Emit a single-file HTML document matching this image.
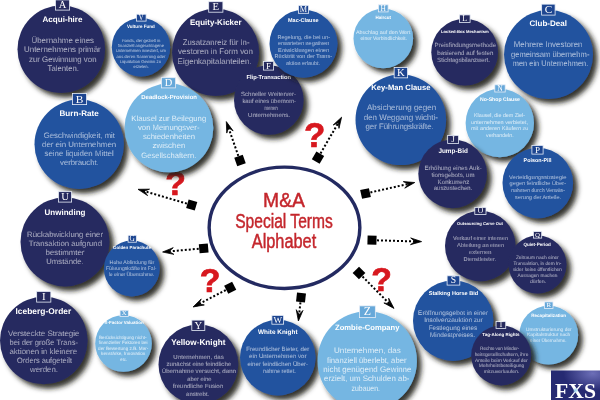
<!DOCTYPE html>
<html><head><meta charset="utf-8"><title>M&amp;A Special Terms Alphabet</title><style>
html,body{margin:0;padding:0;background:#fff;}
svg{display:block;will-change:transform;}
text{font-family:"Liberation Sans",sans-serif;}
.t{font-weight:bold;fill:#fff;}
.b{fill:#fff;}
.l{font-family:"Liberation Serif",serif;fill:#fff;}
</style></head><body>
<svg width="600" height="400" viewBox="0 0 600 400">
<defs>
<filter id="sh" x="-30%" y="-30%" width="170%" height="170%">
<feDropShadow dx="4.5" dy="4.5" stdDeviation="2.4" flood-color="#1c1c12" flood-opacity="0.9"/>
</filter>
<radialGradient id="fxg" cx="0.85" cy="0.1" r="0.6">
<stop offset="0" stop-color="#6d6fb8"/><stop offset="1" stop-color="#262a72"/>
</radialGradient>
<radialGradient id="xg" cx="0.5" cy="0.5" r="0.5">
<stop offset="0" stop-color="#8fd0f0" stop-opacity="0.9"/><stop offset="1" stop-color="#8fd0f0" stop-opacity="0"/>
</radialGradient>
</defs>
<rect width="600" height="400" fill="#fff"/>
<ellipse cx="284.5" cy="227.8" rx="75.35" ry="60.65" fill="#fff" stroke="#232a61" stroke-width="3.4"/>
<g fill="#c4262c" stroke="#c4262c" stroke-width="0.45">
<text x="284" y="206.8" font-size="19.5" text-anchor="middle" textLength="41.9" lengthAdjust="spacingAndGlyphs">M&amp;A</text>
<text x="284" y="227.8" font-size="19.5" text-anchor="middle" textLength="97.7" lengthAdjust="spacingAndGlyphs">Special Terms</text>
<text x="284" y="248.2" font-size="19.5" text-anchor="middle" textLength="64.5" lengthAdjust="spacingAndGlyphs">Alphabet</text>
</g>
<g>
<line x1="238.34" y1="155.88" x2="227.63" y2="125.37" stroke="#000" stroke-width="2" stroke-dasharray="2 2"/>
<rect x="235.5" y="156.1" width="9" height="9" fill="#000" transform="rotate(-109.36 240 160.6)"/>
<path d="M226.3,121.6 L233.12,130.86 L228.45,127.73 L226.77,133.09 Z" fill="#000" stroke="#000" stroke-width="0.8"/>
<line x1="320.52" y1="153.38" x2="339.59" y2="120.66" stroke="#000" stroke-width="2" stroke-dasharray="2 2"/>
<rect x="313.5" y="153.2" width="9" height="9" fill="#000" transform="rotate(-59.77 318 157.7)"/>
<path d="M341.6,117.2 L338.97,128.39 L338.33,122.82 L333.16,125.01 Z" fill="#000" stroke="#000" stroke-width="0.8"/>
<line x1="186.9" y1="203.6" x2="141.84" y2="190.42" stroke="#000" stroke-width="2" stroke-dasharray="2 2"/>
<rect x="187.2" y="200.5" width="9" height="9" fill="#000" transform="rotate(-163.7 191.7 205)"/>
<path d="M138,189.3 L149.5,189.16 L144.24,191.12 L147.61,195.61 Z" fill="#000" stroke="#000" stroke-width="0.8"/>
<line x1="198.72" y1="248.75" x2="166.58" y2="251.64" stroke="#000" stroke-width="2" stroke-dasharray="2 2"/>
<rect x="199.2" y="243.8" width="9" height="9" fill="#000" transform="rotate(174.86 203.7 248.3)"/>
<path d="M162.6,252 L173.25,247.67 L169.07,251.42 L173.85,254.36 Z" fill="#000" stroke="#000" stroke-width="0.8"/>
<line x1="225.76" y1="290.09" x2="196.55" y2="305.17" stroke="#000" stroke-width="2" stroke-dasharray="2 2"/>
<rect x="225.7" y="283.3" width="9" height="9" fill="#000" transform="rotate(152.7 230.2 287.8)"/>
<path d="M193,307 L201.23,298.97 L198.78,304.02 L204.31,304.94 Z" fill="#000" stroke="#000" stroke-width="0.8"/>
<line x1="300.45" y1="302.47" x2="298.84" y2="317.02" stroke="#000" stroke-width="2" stroke-dasharray="2 2"/>
<rect x="296.5" y="293" width="9" height="9" fill="#000" transform="rotate(96.31 301 297.5)"/>
<path d="M298.4,321 L296.27,309.7 L299.11,314.54 L302.95,310.44 Z" fill="#000" stroke="#000" stroke-width="0.8"/>
<line x1="362.52" y1="276.56" x2="391.19" y2="305.56" stroke="#000" stroke-width="2" stroke-dasharray="2 2"/>
<rect x="354.5" y="268.5" width="9" height="9" fill="#000" transform="rotate(45.33 359 273)"/>
<path d="M394,308.4 L383.88,302.94 L389.43,303.78 L388.66,298.22 Z" fill="#000" stroke="#000" stroke-width="0.8"/>
<line x1="370.38" y1="192.41" x2="410.85" y2="183.37" stroke="#000" stroke-width="2" stroke-dasharray="2 2"/>
<rect x="361" y="189" width="9" height="9" fill="#000" transform="rotate(-12.59 365.5 193.5)"/>
<path d="M414.75,182.5 L404.75,188.18 L408.41,183.92 L403.28,181.62 Z" fill="#000" stroke="#000" stroke-width="0.8"/>
<line x1="377" y1="240.34" x2="417.6" y2="241.49" stroke="#000" stroke-width="2" stroke-dasharray="2 2"/>
<rect x="367.5" y="235.7" width="9" height="9" fill="#000" transform="rotate(1.62 372 240.2)"/>
<path d="M421.6,241.6 L410.51,244.65 L415.1,241.42 L410.7,237.93 Z" fill="#000" stroke="#000" stroke-width="0.8"/>
</g>
<text x="314.75" y="147.2" font-size="34.9" font-weight="bold" fill="#d7181f" stroke="#d7181f" stroke-width="0.7" text-anchor="middle">?</text>
<text x="175.7" y="195.4" font-size="33.8" font-weight="bold" fill="#d7181f" stroke="#d7181f" stroke-width="0.7" text-anchor="middle">?</text>
<text x="210.2" y="291.7" font-size="33.8" font-weight="bold" fill="#d7181f" stroke="#d7181f" stroke-width="0.7" text-anchor="middle">?</text>
<text x="381.7" y="290.7" font-size="33.8" font-weight="bold" fill="#d7181f" stroke="#d7181f" stroke-width="0.7" text-anchor="middle">?</text>
<g><circle cx="61.3" cy="49.3" r="43.8" fill="#272b60" filter="url(#sh)"/>
<rect x="55.4" y="-0.1" width="14.2" height="10.2" fill="#262a5e" stroke="#e8eef8" stroke-width="0.8"/>
<text class="l" x="62.5" y="8.25" font-size="10.45" text-anchor="middle">A</text>
<text class="t" transform="translate(62.5 22) scale(0.5) skewX(0.5)" font-size="16" text-anchor="middle" textLength="80" lengthAdjust="spacingAndGlyphs">Acqui-hire</text>
<text class="b" transform="translate(62.75 42.8) scale(0.5) skewX(0.5)" font-size="16" text-anchor="middle" textLength="125" lengthAdjust="spacingAndGlyphs" fill-opacity="0.9" stroke="#272b60" stroke-width="0.48">Übernahme eines</text>
<text class="b" transform="translate(62.38 52.2) scale(0.5) skewX(0.5)" font-size="16" text-anchor="middle" textLength="153.5" lengthAdjust="spacingAndGlyphs" fill-opacity="0.9" stroke="#272b60" stroke-width="0.48">Unternehmens primär</text>
<text class="b" transform="translate(62.75 61.6) scale(0.5) skewX(0.5)" font-size="16" text-anchor="middle" textLength="135" lengthAdjust="spacingAndGlyphs" fill-opacity="0.9" stroke="#272b60" stroke-width="0.48">zur Gewinnung von</text>
<text class="b" transform="translate(63.25 71) scale(0.5) skewX(0.5)" font-size="16" text-anchor="middle" textLength="63" lengthAdjust="spacingAndGlyphs" fill-opacity="0.9" stroke="#272b60" stroke-width="0.48">Talenten.</text>
</g>
<g><circle cx="141" cy="47.2" r="29.2" fill="#22539f" filter="url(#sh)"/>
<rect x="136.4" y="14.2" width="9.7" height="6.9" fill="#1d4590" stroke="#e8eef8" stroke-width="0.8"/>
<text class="l" x="141.25" y="19.86" font-size="7.31" text-anchor="middle">V</text>
<text class="t" transform="translate(140.85 28) scale(0.5) skewX(0.5)" font-size="9.2" text-anchor="middle" textLength="55.4" lengthAdjust="spacingAndGlyphs">Vulture Fund</text>
<text class="b" transform="translate(141.25 41.8) scale(0.5) skewX(0.5)" font-size="8.4" text-anchor="middle" textLength="77" lengthAdjust="spacingAndGlyphs" fill-opacity="0.92" stroke="#22539f" stroke-width="0.25">Fonds, der gezielt in</text>
<text class="b" transform="translate(141 47.05) scale(0.5) skewX(0.5)" font-size="8.4" text-anchor="middle" textLength="92" lengthAdjust="spacingAndGlyphs" fill-opacity="0.92" stroke="#22539f" stroke-width="0.25">finanziell angeschlagene</text>
<text class="b" transform="translate(141 52.3) scale(0.5) skewX(0.5)" font-size="8.4" text-anchor="middle" textLength="100" lengthAdjust="spacingAndGlyphs" fill-opacity="0.92" stroke="#22539f" stroke-width="0.25">Unternehmen investiert, um</text>
<text class="b" transform="translate(141 57.55) scale(0.5) skewX(0.5)" font-size="8.4" text-anchor="middle" textLength="98" lengthAdjust="spacingAndGlyphs" fill-opacity="0.92" stroke="#22539f" stroke-width="0.25">aus deren Sanierung oder</text>
<text class="b" transform="translate(140.4 62.8) scale(0.5) skewX(0.5)" font-size="8.4" text-anchor="middle" textLength="82.4" lengthAdjust="spacingAndGlyphs" fill-opacity="0.92" stroke="#22539f" stroke-width="0.25">Liquidation Gewinn zu</text>
<text class="b" transform="translate(141.05 68.05) scale(0.5) skewX(0.5)" font-size="8.4" text-anchor="middle" textLength="30.6" lengthAdjust="spacingAndGlyphs" fill-opacity="0.92" stroke="#22539f" stroke-width="0.25">erzielen.</text>
</g>
<g><circle cx="215.6" cy="52.4" r="43.6" fill="#272b60" filter="url(#sh)"/>
<rect x="208.7" y="1.7" width="14.2" height="10.5" fill="#262a5e" stroke="#e8eef8" stroke-width="0.8"/>
<text class="l" x="215.8" y="10.29" font-size="10.73" text-anchor="middle">E</text>
<text class="t" transform="translate(215.8 24.9) scale(0.5) skewX(0.5)" font-size="16" text-anchor="middle" textLength="103.2" lengthAdjust="spacingAndGlyphs">Equity-Kicker</text>
<text class="b" transform="translate(216.15 44.6) scale(0.5) skewX(0.5)" font-size="16" text-anchor="middle" textLength="133.4" lengthAdjust="spacingAndGlyphs" fill-opacity="0.9" stroke="#272b60" stroke-width="0.48">Zusatzanreiz für In-</text>
<text class="b" transform="translate(215.5 54.2) scale(0.5) skewX(0.5)" font-size="16" text-anchor="middle" textLength="150" lengthAdjust="spacingAndGlyphs" fill-opacity="0.9" stroke="#272b60" stroke-width="0.48">vestoren in Form von</text>
<text class="b" transform="translate(214.6 63.8) scale(0.5) skewX(0.5)" font-size="16" text-anchor="middle" textLength="148" lengthAdjust="spacingAndGlyphs" fill-opacity="0.9" stroke="#272b60" stroke-width="0.48">Eigenkapitalanteilen.</text>
</g>
<g><circle cx="268.8" cy="100" r="34.8" fill="#272b60" filter="url(#sh)"/>
<rect x="263.4" y="61.4" width="10.2" height="8.7" fill="#262a5e" stroke="#e8eef8" stroke-width="0.8"/>
<text class="l" x="268.5" y="68.53" font-size="9.03" text-anchor="middle">F</text>
<text class="t" transform="translate(268.7 79) scale(0.5) skewX(0.5)" font-size="11.6" text-anchor="middle" textLength="89.2" lengthAdjust="spacingAndGlyphs">Flip-Transaction</text>
<text class="b" transform="translate(268.5 95.6) scale(0.5) skewX(0.5)" font-size="12" text-anchor="middle" textLength="110" lengthAdjust="spacingAndGlyphs" fill-opacity="0.9" stroke="#272b60" stroke-width="0.36">Schneller Weiterver-</text>
<text class="b" transform="translate(269.2 102.8) scale(0.5) skewX(0.5)" font-size="12" text-anchor="middle" textLength="107.2" lengthAdjust="spacingAndGlyphs" fill-opacity="0.9" stroke="#272b60" stroke-width="0.36">kauf eines übernom-</text>
<text class="b" transform="translate(271 110) scale(0.5) skewX(0.5)" font-size="12" text-anchor="middle" textLength="26.4" lengthAdjust="spacingAndGlyphs" fill-opacity="0.9" stroke="#272b60" stroke-width="0.36">menen</text>
<text class="b" transform="translate(269 117.2) scale(0.5) skewX(0.5)" font-size="12" text-anchor="middle" textLength="84" lengthAdjust="spacingAndGlyphs" fill-opacity="0.9" stroke="#272b60" stroke-width="0.36">Unternehmens.</text>
</g>
<g><circle cx="303.5" cy="43.7" r="34" fill="#22539f" filter="url(#sh)"/>
<rect x="298.4" y="5.4" width="10.2" height="7.9" fill="#1d4590" stroke="#e8eef8" stroke-width="0.8"/>
<text class="l" x="303.5" y="11.88" font-size="8.26" text-anchor="middle">M</text>
<text class="t" transform="translate(303.3 21.6) scale(0.5) skewX(0.5)" font-size="11" text-anchor="middle" textLength="61.2" lengthAdjust="spacingAndGlyphs">Mac-Clause</text>
<text class="b" transform="translate(303.7 38.5) scale(0.5) skewX(0.5)" font-size="11" text-anchor="middle" textLength="105.2" lengthAdjust="spacingAndGlyphs" fill-opacity="0.92" stroke="#22539f" stroke-width="0.33">Regelung, die bei un-</text>
<text class="b" transform="translate(303.7 45.1) scale(0.5) skewX(0.5)" font-size="11" text-anchor="middle" textLength="102.8" lengthAdjust="spacingAndGlyphs" fill-opacity="0.92" stroke="#22539f" stroke-width="0.33">erwarteten negativen</text>
<text class="b" transform="translate(303.5 51.7) scale(0.5) skewX(0.5)" font-size="11" text-anchor="middle" textLength="102" lengthAdjust="spacingAndGlyphs" fill-opacity="0.92" stroke="#22539f" stroke-width="0.33">Entwicklungen einen</text>
<text class="b" transform="translate(303.3 58.3) scale(0.5) skewX(0.5)" font-size="11" text-anchor="middle" textLength="114.8" lengthAdjust="spacingAndGlyphs" fill-opacity="0.92" stroke="#22539f" stroke-width="0.33">Rücktritt von der Trans-</text>
<text class="b" transform="translate(303 64.9) scale(0.5) skewX(0.5)" font-size="11" text-anchor="middle" textLength="68" lengthAdjust="spacingAndGlyphs" fill-opacity="0.92" stroke="#22539f" stroke-width="0.33">aktion erlaubt.</text>
</g>
<g><circle cx="383.3" cy="38.5" r="29.8" fill="#75b6e2" filter="url(#sh)"/>
<rect x="378.4" y="4.8" width="9.7" height="7.1" fill="#67a8d9" stroke="#e8eef8" stroke-width="0.8"/>
<text class="l" x="383.25" y="10.63" font-size="7.5" text-anchor="middle">H</text>
<text class="t" transform="translate(383.2 19) scale(0.5) skewX(0.5)" font-size="9.2" text-anchor="middle" textLength="31.2" lengthAdjust="spacingAndGlyphs">Haircut</text>
<text class="b" transform="translate(383.2 33.8) scale(0.5) skewX(0.5)" font-size="10.4" text-anchor="middle" textLength="108.8" lengthAdjust="spacingAndGlyphs" fill-opacity="1" stroke="#75b6e2" stroke-width="0.21">Abschlag auf den Wert</text>
<text class="b" transform="translate(383.75 39.6) scale(0.5) skewX(0.5)" font-size="10.4" text-anchor="middle" textLength="93" lengthAdjust="spacingAndGlyphs" fill-opacity="1" stroke="#75b6e2" stroke-width="0.21">einer Verbindlichkeit.</text>
</g>
<g><circle cx="464.7" cy="52.2" r="33.4" fill="#272b60" filter="url(#sh)"/>
<rect x="459.4" y="14.9" width="10.7" height="7.7" fill="#262a5e" stroke="#e8eef8" stroke-width="0.8"/>
<text class="l" x="464.75" y="21.21" font-size="8.07" text-anchor="middle">L</text>
<text class="t" transform="translate(464.85 33) scale(0.5) skewX(0.5)" font-size="8.4" text-anchor="middle" textLength="95.4" lengthAdjust="spacingAndGlyphs">Locked-Box Mechanism</text>
<text class="b" transform="translate(465.4 47.3) scale(0.5) skewX(0.5)" font-size="12.2" text-anchor="middle" textLength="123.2" lengthAdjust="spacingAndGlyphs" fill-opacity="0.9" stroke="#272b60" stroke-width="0.37">Preisfindungsmethode</text>
<text class="b" transform="translate(465.35 54.75) scale(0.5) skewX(0.5)" font-size="12.2" text-anchor="middle" textLength="112.2" lengthAdjust="spacingAndGlyphs" fill-opacity="0.9" stroke="#272b60" stroke-width="0.37">basierend auf festen</text>
<text class="b" transform="translate(463.55 62.2) scale(0.5) skewX(0.5)" font-size="12.2" text-anchor="middle" textLength="105" lengthAdjust="spacingAndGlyphs" fill-opacity="0.9" stroke="#272b60" stroke-width="0.37">Stichtagsbilanzwert.</text>
</g>
<g><circle cx="548.5" cy="54.6" r="44.5" fill="#22539f" filter="url(#sh)"/>
<rect x="541.65" y="4.15" width="13.45" height="10.95" fill="#1d4590" stroke="#e8eef8" stroke-width="0.8"/>
<text class="l" x="548.38" y="13.11" font-size="11.16" text-anchor="middle">C</text>
<text class="t" transform="translate(548.25 26.25) scale(0.5) skewX(0.5)" font-size="16" text-anchor="middle" textLength="75" lengthAdjust="spacingAndGlyphs">Club-Deal</text>
<text class="b" transform="translate(548.12 47.4) scale(0.5) skewX(0.5)" font-size="16" text-anchor="middle" textLength="137.5" lengthAdjust="spacingAndGlyphs" fill-opacity="0.92" stroke="#22539f" stroke-width="0.48">Mehrere Investoren</text>
<text class="b" transform="translate(550.25 56.5) scale(0.5) skewX(0.5)" font-size="16" text-anchor="middle" textLength="157" lengthAdjust="spacingAndGlyphs" fill-opacity="0.92" stroke="#22539f" stroke-width="0.48">gemeinsam übernehm-</text>
<text class="b" transform="translate(550.5 65.6) scale(0.5) skewX(0.5)" font-size="16" text-anchor="middle" textLength="150.8" lengthAdjust="spacingAndGlyphs" fill-opacity="0.92" stroke="#22539f" stroke-width="0.48">men ein Unternehmen.</text>
</g>
<g><circle cx="79.2" cy="144.3" r="44.7" fill="#22539f" filter="url(#sh)"/>
<rect x="72.4" y="93.4" width="14.2" height="11.2" fill="#1d4590" stroke="#e8eef8" stroke-width="0.8"/>
<text class="l" x="79.5" y="102.56" font-size="11.4" text-anchor="middle">B</text>
<text class="t" transform="translate(79.12 116.25) scale(0.5) skewX(0.5)" font-size="16.2" text-anchor="middle" textLength="78.5" lengthAdjust="spacingAndGlyphs">Burn-Rate</text>
<text class="b" transform="translate(79.38 137.5) scale(0.5) skewX(0.5)" font-size="15.6" text-anchor="middle" textLength="142.5" lengthAdjust="spacingAndGlyphs" fill-opacity="0.92" stroke="#22539f" stroke-width="0.47">Geschwindigkeit, mit</text>
<text class="b" transform="translate(79.12 146.5) scale(0.5) skewX(0.5)" font-size="15.6" text-anchor="middle" textLength="148.5" lengthAdjust="spacingAndGlyphs" fill-opacity="0.92" stroke="#22539f" stroke-width="0.47">der ein Unternehmen</text>
<text class="b" transform="translate(79.12 155.5) scale(0.5) skewX(0.5)" font-size="15.6" text-anchor="middle" textLength="138.5" lengthAdjust="spacingAndGlyphs" fill-opacity="0.92" stroke="#22539f" stroke-width="0.47">seine liquiden Mittel</text>
<text class="b" transform="translate(79.38 164.5) scale(0.5) skewX(0.5)" font-size="15.6" text-anchor="middle" textLength="77.5" lengthAdjust="spacingAndGlyphs" fill-opacity="0.92" stroke="#22539f" stroke-width="0.47">verbraucht.</text>
</g>
<g><circle cx="168.9" cy="127.9" r="44.4" fill="#75b6e2" filter="url(#sh)"/>
<rect x="161.4" y="77.7" width="14.2" height="10.2" fill="#67a8d9" stroke="#e8eef8" stroke-width="0.8"/>
<text class="l" x="168.5" y="86.05" font-size="10.45" text-anchor="middle">D</text>
<text class="t" transform="translate(169.12 98.5) scale(0.5) skewX(0.5)" font-size="12" text-anchor="middle" textLength="111.5" lengthAdjust="spacingAndGlyphs">Deadlock-Provision</text>
<text class="b" transform="translate(168.75 120.8) scale(0.5) skewX(0.5)" font-size="15.5" text-anchor="middle" textLength="150" lengthAdjust="spacingAndGlyphs" fill-opacity="1" stroke="#75b6e2" stroke-width="0.31">Klausel zur Beilegung</text>
<text class="b" transform="translate(168.75 130) scale(0.5) skewX(0.5)" font-size="15.5" text-anchor="middle" textLength="123" lengthAdjust="spacingAndGlyphs" fill-opacity="1" stroke="#75b6e2" stroke-width="0.31">von Meinungsver-</text>
<text class="b" transform="translate(169 139.2) scale(0.5) skewX(0.5)" font-size="15.5" text-anchor="middle" textLength="104" lengthAdjust="spacingAndGlyphs" fill-opacity="1" stroke="#75b6e2" stroke-width="0.31">schiedenheiten</text>
<text class="b" transform="translate(169 148.4) scale(0.5) skewX(0.5)" font-size="15.5" text-anchor="middle" textLength="66" lengthAdjust="spacingAndGlyphs" fill-opacity="1" stroke="#75b6e2" stroke-width="0.31">zwischen</text>
<text class="b" transform="translate(168.75 157.6) scale(0.5) skewX(0.5)" font-size="15.5" text-anchor="middle" textLength="110" lengthAdjust="spacingAndGlyphs" fill-opacity="1" stroke="#75b6e2" stroke-width="0.31">Gesellschaftern.</text>
</g>
<g><circle cx="400.8" cy="119.8" r="45.3" fill="#22539f" filter="url(#sh)"/>
<rect x="394.15" y="67.4" width="13.45" height="10.45" fill="#1d4590" stroke="#e8eef8" stroke-width="0.8"/>
<text class="l" x="400.88" y="75.95" font-size="10.69" text-anchor="middle">K</text>
<text class="t" transform="translate(400.88 89.5) scale(0.5) skewX(0.5)" font-size="15.4" text-anchor="middle" textLength="118.5" lengthAdjust="spacingAndGlyphs">Key-Man Clause</text>
<text class="b" transform="translate(401.62 110.3) scale(0.5) skewX(0.5)" font-size="15.9" text-anchor="middle" textLength="138.5" lengthAdjust="spacingAndGlyphs" fill-opacity="0.92" stroke="#22539f" stroke-width="0.48">Absicherung gegen</text>
<text class="b" transform="translate(400.88 119.7) scale(0.5) skewX(0.5)" font-size="15.9" text-anchor="middle" textLength="148.5" lengthAdjust="spacingAndGlyphs" fill-opacity="0.92" stroke="#22539f" stroke-width="0.48">den Weggang wichti-</text>
<text class="b" transform="translate(399.62 129.1) scale(0.5) skewX(0.5)" font-size="15.9" text-anchor="middle" textLength="136.5" lengthAdjust="spacingAndGlyphs" fill-opacity="0.92" stroke="#22539f" stroke-width="0.48">ger Führungskräfte.</text>
</g>
<g><circle cx="499.8" cy="123" r="34.2" fill="#75b6e2" filter="url(#sh)"/>
<rect x="494.8" y="84.8" width="10.4" height="7.2" fill="#67a8d9" stroke="#e8eef8" stroke-width="0.8"/>
<text class="l" x="500" y="90.71" font-size="7.6" text-anchor="middle">N</text>
<text class="t" transform="translate(500 101) scale(0.5) skewX(0.5)" font-size="10.4" text-anchor="middle" textLength="80" lengthAdjust="spacingAndGlyphs">No-Shop Clause</text>
<text class="b" transform="translate(499.5 117) scale(0.5) skewX(0.5)" font-size="10.9" text-anchor="middle" textLength="102" lengthAdjust="spacingAndGlyphs" fill-opacity="1" stroke="#75b6e2" stroke-width="0.22">Klausel, die dem Ziel-</text>
<text class="b" transform="translate(499.5 123.7) scale(0.5) skewX(0.5)" font-size="10.9" text-anchor="middle" textLength="114" lengthAdjust="spacingAndGlyphs" fill-opacity="1" stroke="#75b6e2" stroke-width="0.22">unternehmen verbietet,</text>
<text class="b" transform="translate(499.7 130.4) scale(0.5) skewX(0.5)" font-size="10.9" text-anchor="middle" textLength="114.8" lengthAdjust="spacingAndGlyphs" fill-opacity="1" stroke="#75b6e2" stroke-width="0.22">mit anderen Käufern zu</text>
<text class="b" transform="translate(499.8 137.1) scale(0.5) skewX(0.5)" font-size="10.9" text-anchor="middle" textLength="55.2" lengthAdjust="spacingAndGlyphs" fill-opacity="1" stroke="#75b6e2" stroke-width="0.22">verhandeln.</text>
</g>
<g><circle cx="452.65" cy="173.8" r="34.35" fill="#272b60" filter="url(#sh)"/>
<rect x="447.65" y="135.4" width="10.95" height="8.2" fill="#262a5e" stroke="#e8eef8" stroke-width="0.8"/>
<text class="l" x="453.12" y="142.12" font-size="8.55" text-anchor="middle">J</text>
<text class="t" transform="translate(453.15 153) scale(0.5) skewX(0.5)" font-size="13" text-anchor="middle" textLength="59" lengthAdjust="spacingAndGlyphs">Jump-Bid</text>
<text class="b" transform="translate(453 170) scale(0.5) skewX(0.5)" font-size="12.2" text-anchor="middle" textLength="114.4" lengthAdjust="spacingAndGlyphs" fill-opacity="0.9" stroke="#272b60" stroke-width="0.37">Erhöhung eines Auk-</text>
<text class="b" transform="translate(453.05 176.8) scale(0.5) skewX(0.5)" font-size="12.2" text-anchor="middle" textLength="86.2" lengthAdjust="spacingAndGlyphs" fill-opacity="0.9" stroke="#272b60" stroke-width="0.37">tionsgebots, um</text>
<text class="b" transform="translate(453.45 183.6) scale(0.5) skewX(0.5)" font-size="12.2" text-anchor="middle" textLength="63.8" lengthAdjust="spacingAndGlyphs" fill-opacity="0.9" stroke="#272b60" stroke-width="0.37">Konkurrenz</text>
<text class="b" transform="translate(452.98 190.4) scale(0.5) skewX(0.5)" font-size="12.2" text-anchor="middle" textLength="76.9" lengthAdjust="spacingAndGlyphs" fill-opacity="0.9" stroke="#272b60" stroke-width="0.37">auszustechen.</text>
</g>
<g><circle cx="537.8" cy="183" r="35.3" fill="#22539f" filter="url(#sh)"/>
<rect x="531.9" y="145.4" width="11.2" height="8.7" fill="#1d4590" stroke="#e8eef8" stroke-width="0.8"/>
<text class="l" x="537.5" y="152.53" font-size="9.03" text-anchor="middle">P</text>
<text class="t" transform="translate(537.6 161.5) scale(0.5) skewX(0.5)" font-size="10.8" text-anchor="middle" textLength="56" lengthAdjust="spacingAndGlyphs">Poison-Pill</text>
<text class="b" transform="translate(537.7 178.5) scale(0.5) skewX(0.5)" font-size="11.1" text-anchor="middle" textLength="114.8" lengthAdjust="spacingAndGlyphs" fill-opacity="0.92" stroke="#22539f" stroke-width="0.33">Verteidigungsstrategie</text>
<text class="b" transform="translate(537.8 185.2) scale(0.5) skewX(0.5)" font-size="11.1" text-anchor="middle" textLength="112.8" lengthAdjust="spacingAndGlyphs" fill-opacity="0.92" stroke="#22539f" stroke-width="0.33">gegen feindliche Über-</text>
<text class="b" transform="translate(538 191.9) scale(0.5) skewX(0.5)" font-size="11.1" text-anchor="middle" textLength="108" lengthAdjust="spacingAndGlyphs" fill-opacity="0.92" stroke="#22539f" stroke-width="0.33">nahmen durch Verwäs-</text>
<text class="b" transform="translate(538 198.6) scale(0.5) skewX(0.5)" font-size="11.1" text-anchor="middle" textLength="92" lengthAdjust="spacingAndGlyphs" fill-opacity="0.92" stroke="#22539f" stroke-width="0.33">serung der Anteile.</text>
</g>
<g><circle cx="65" cy="241.9" r="44.5" fill="#272b60" filter="url(#sh)"/>
<rect x="58.4" y="191.65" width="13.2" height="10.45" fill="#262a5e" stroke="#e8eef8" stroke-width="0.8"/>
<text class="l" x="65" y="200.2" font-size="10.69" text-anchor="middle">U</text>
<text class="t" transform="translate(65 215) scale(0.5) skewX(0.5)" font-size="16" text-anchor="middle" textLength="82" lengthAdjust="spacingAndGlyphs">Unwinding</text>
<text class="b" transform="translate(65 236.5) scale(0.5) skewX(0.5)" font-size="15.6" text-anchor="middle" textLength="152" lengthAdjust="spacingAndGlyphs" fill-opacity="0.9" stroke="#272b60" stroke-width="0.47">Rückabwicklung einer</text>
<text class="b" transform="translate(65.38 245.7) scale(0.5) skewX(0.5)" font-size="15.6" text-anchor="middle" textLength="146.5" lengthAdjust="spacingAndGlyphs" fill-opacity="0.9" stroke="#272b60" stroke-width="0.47">Transaktion aufgrund</text>
<text class="b" transform="translate(65 254.9) scale(0.5) skewX(0.5)" font-size="15.6" text-anchor="middle" textLength="78" lengthAdjust="spacingAndGlyphs" fill-opacity="0.9" stroke="#272b60" stroke-width="0.47">bestimmter</text>
<text class="b" transform="translate(65 264.1) scale(0.5) skewX(0.5)" font-size="15.6" text-anchor="middle" textLength="75" lengthAdjust="spacingAndGlyphs" fill-opacity="0.9" stroke="#272b60" stroke-width="0.47">Umstände.</text>
</g>
<g><circle cx="131.8" cy="268.5" r="27.9" fill="#22539f" filter="url(#sh)"/>
<rect x="128.1" y="235.3" width="8.25" height="6.9" fill="#1d4590" stroke="#e8eef8" stroke-width="0.8"/>
<text class="l" x="132.22" y="240.96" font-size="7.31" text-anchor="middle">G</text>
<text class="t" transform="translate(132 249.2) scale(0.5) skewX(0.5)" font-size="8.9" text-anchor="middle" textLength="76" lengthAdjust="spacingAndGlyphs">Golden Parachute</text>
<text class="b" transform="translate(131.93 263.7) scale(0.5) skewX(0.5)" font-size="10.1" text-anchor="middle" textLength="89.3" lengthAdjust="spacingAndGlyphs" fill-opacity="0.92" stroke="#22539f" stroke-width="0.3">Hohe Abfindung für</text>
<text class="b" transform="translate(131.2 269.8) scale(0.5) skewX(0.5)" font-size="10.1" text-anchor="middle" textLength="100.8" lengthAdjust="spacingAndGlyphs" fill-opacity="0.92" stroke="#22539f" stroke-width="0.3">Führungskräfte im Fal-</text>
<text class="b" transform="translate(131.5 275.9) scale(0.5) skewX(0.5)" font-size="10.1" text-anchor="middle" textLength="91" lengthAdjust="spacingAndGlyphs" fill-opacity="0.92" stroke="#22539f" stroke-width="0.3">le einer Übernahme.</text>
</g>
<g><circle cx="480.3" cy="246" r="35.3" fill="#272b60" filter="url(#sh)"/>
<rect x="474.8" y="207.4" width="11.2" height="7.2" fill="#262a5e" stroke="#e8eef8" stroke-width="0.8"/>
<text class="l" x="480.4" y="213.31" font-size="7.6" text-anchor="middle">O</text>
<text class="t" transform="translate(480 225.2) scale(0.5) skewX(0.5)" font-size="8.4" text-anchor="middle" textLength="92" lengthAdjust="spacingAndGlyphs">Outsourcing Carve Out</text>
<text class="b" transform="translate(480.5 239.5) scale(0.5) skewX(0.5)" font-size="11.4" text-anchor="middle" textLength="110" lengthAdjust="spacingAndGlyphs" fill-opacity="0.9" stroke="#272b60" stroke-width="0.34">Verkauf einer internen</text>
<text class="b" transform="translate(480.5 246.5) scale(0.5) skewX(0.5)" font-size="11.4" text-anchor="middle" textLength="94" lengthAdjust="spacingAndGlyphs" fill-opacity="0.9" stroke="#272b60" stroke-width="0.34">Abteilung an einen</text>
<text class="b" transform="translate(480.3 253.5) scale(0.5) skewX(0.5)" font-size="11.4" text-anchor="middle" textLength="45.2" lengthAdjust="spacingAndGlyphs" fill-opacity="0.9" stroke="#272b60" stroke-width="0.34">externen</text>
<text class="b" transform="translate(479.8 260.5) scale(0.5) skewX(0.5)" font-size="11.4" text-anchor="middle" textLength="64.8" lengthAdjust="spacingAndGlyphs" fill-opacity="0.9" stroke="#272b60" stroke-width="0.34">Dienstleister.</text>
</g>
<g><circle cx="537.5" cy="264.5" r="29" fill="#272b60" filter="url(#sh)"/>
<rect x="533.4" y="231.6" width="8.3" height="6.5" fill="#262a5e" stroke="#e8eef8" stroke-width="0.8"/>
<text class="l" x="537.55" y="236.94" font-size="6.94" text-anchor="middle">Q</text>
<text class="t" transform="translate(537.15 246) scale(0.5) skewX(0.5)" font-size="9.2" text-anchor="middle" textLength="55" lengthAdjust="spacingAndGlyphs">Quiet-Period</text>
<text class="b" transform="translate(537.4 259.4) scale(0.5) skewX(0.5)" font-size="9.6" text-anchor="middle" textLength="86" lengthAdjust="spacingAndGlyphs" fill-opacity="0.9" stroke="#272b60" stroke-width="0.29">Zeitraum nach einer</text>
<text class="b" transform="translate(537.4 265.2) scale(0.5) skewX(0.5)" font-size="9.6" text-anchor="middle" textLength="96" lengthAdjust="spacingAndGlyphs" fill-opacity="0.9" stroke="#272b60" stroke-width="0.29">Transaktion, in dem In-</text>
<text class="b" transform="translate(537.4 271) scale(0.5) skewX(0.5)" font-size="9.6" text-anchor="middle" textLength="98" lengthAdjust="spacingAndGlyphs" fill-opacity="0.9" stroke="#272b60" stroke-width="0.29">sider keine öffentlichen</text>
<text class="b" transform="translate(537.55 276.8) scale(0.5) skewX(0.5)" font-size="9.6" text-anchor="middle" textLength="79.8" lengthAdjust="spacingAndGlyphs" fill-opacity="0.9" stroke="#272b60" stroke-width="0.29">Aussagen machen</text>
<text class="b" transform="translate(538 282.6) scale(0.5) skewX(0.5)" font-size="9.6" text-anchor="middle" textLength="32.4" lengthAdjust="spacingAndGlyphs" fill-opacity="0.9" stroke="#272b60" stroke-width="0.29">dürfen.</text>
</g>
<g><circle cx="43.8" cy="340.5" r="43.8" fill="#272b60" filter="url(#sh)"/>
<rect x="36.65" y="291.4" width="14.2" height="10.7" fill="#262a5e" stroke="#e8eef8" stroke-width="0.8"/>
<text class="l" x="43.75" y="300.16" font-size="10.92" text-anchor="middle">I</text>
<text class="t" transform="translate(43.38 314.25) scale(0.5) skewX(0.5)" font-size="16.8" text-anchor="middle" textLength="111.5" lengthAdjust="spacingAndGlyphs">Iceberg-Order</text>
<text class="b" transform="translate(43.75 335.5) scale(0.5) skewX(0.5)" font-size="15.6" text-anchor="middle" textLength="143" lengthAdjust="spacingAndGlyphs" fill-opacity="0.9" stroke="#272b60" stroke-width="0.47">Versteckte Strategie</text>
<text class="b" transform="translate(43.75 344.5) scale(0.5) skewX(0.5)" font-size="15.6" text-anchor="middle" textLength="137" lengthAdjust="spacingAndGlyphs" fill-opacity="0.9" stroke="#272b60" stroke-width="0.47">bei der große Trans-</text>
<text class="b" transform="translate(43.25 353.5) scale(0.5) skewX(0.5)" font-size="15.6" text-anchor="middle" textLength="135" lengthAdjust="spacingAndGlyphs" fill-opacity="0.9" stroke="#272b60" stroke-width="0.47">aktionen in kleinere</text>
<text class="b" transform="translate(44.5 362.5) scale(0.5) skewX(0.5)" font-size="15.6" text-anchor="middle" textLength="110" lengthAdjust="spacingAndGlyphs" fill-opacity="0.9" stroke="#272b60" stroke-width="0.47">Orders aufgeteilt</text>
<text class="b" transform="translate(44 371.5) scale(0.5) skewX(0.5)" font-size="15.6" text-anchor="middle" textLength="56" lengthAdjust="spacingAndGlyphs" fill-opacity="0.9" stroke="#272b60" stroke-width="0.47">werden.</text>
</g>
<g><circle cx="123.5" cy="343.5" r="28.3" fill="#75b6e2" filter="url(#sh)"/>
<rect x="120.05" y="310.3" width="8.3" height="6.2" fill="#67a8d9" stroke="#e8eef8" stroke-width="0.8"/>
<text class="l" x="124.2" y="315.39" font-size="6.65" text-anchor="middle">X</text>
<text class="t" transform="translate(124.1 324.2) scale(0.5) skewX(0.5)" font-size="8.9" text-anchor="middle" textLength="78" lengthAdjust="spacingAndGlyphs">X-Factor Valuation</text>
<text class="b" transform="translate(122.8 338.6) scale(0.5) skewX(0.5)" font-size="9.2" text-anchor="middle" textLength="95.2" lengthAdjust="spacingAndGlyphs" fill-opacity="1" stroke="#75b6e2" stroke-width="0.18">Berücksichtigung nicht-</text>
<text class="b" transform="translate(123.15 344.1) scale(0.5) skewX(0.5)" font-size="9.2" text-anchor="middle" textLength="98" lengthAdjust="spacingAndGlyphs" fill-opacity="1" stroke="#75b6e2" stroke-width="0.18">finanzieller Faktoren bei</text>
<text class="b" transform="translate(123.22 349.6) scale(0.5) skewX(0.5)" font-size="9.2" text-anchor="middle" textLength="100.5" lengthAdjust="spacingAndGlyphs" fill-opacity="1" stroke="#75b6e2" stroke-width="0.18">der Bewertung z.B. Mar-</text>
<text class="b" transform="translate(123.25 355.1) scale(0.5) skewX(0.5)" font-size="9.2" text-anchor="middle" textLength="88.6" lengthAdjust="spacingAndGlyphs" fill-opacity="1" stroke="#75b6e2" stroke-width="0.18">kenstärke, Innovation</text>
<text class="b" transform="translate(123.67 360.6) scale(0.5) skewX(0.5)" font-size="9.2" text-anchor="middle" textLength="13.3" lengthAdjust="spacingAndGlyphs" fill-opacity="1" stroke="#75b6e2" stroke-width="0.18">etc.</text>
</g>
<g><circle cx="198.4" cy="364.4" r="39.9" fill="#272b60" filter="url(#sh)"/>
<rect x="191.8" y="320.1" width="13" height="10.4" fill="#262a5e" stroke="#e8eef8" stroke-width="0.8"/>
<text class="l" x="198.3" y="328.61" font-size="10.64" text-anchor="middle">Y</text>
<text class="t" transform="translate(198.3 344.7) scale(0.5) skewX(0.5)" font-size="16.4" text-anchor="middle" textLength="108.4" lengthAdjust="spacingAndGlyphs">Yellow-Knight</text>
<text class="b" transform="translate(198.5 358.6) scale(0.5) skewX(0.5)" font-size="12" text-anchor="middle" textLength="100.8" lengthAdjust="spacingAndGlyphs" fill-opacity="0.9" stroke="#272b60" stroke-width="0.36">Unternehmen, das</text>
<text class="b" transform="translate(198.85 366) scale(0.5) skewX(0.5)" font-size="12" text-anchor="middle" textLength="129" lengthAdjust="spacingAndGlyphs" fill-opacity="0.9" stroke="#272b60" stroke-width="0.36">zunächst eine feindliche</text>
<text class="b" transform="translate(198.85 373.4) scale(0.5) skewX(0.5)" font-size="12" text-anchor="middle" textLength="148.6" lengthAdjust="spacingAndGlyphs" fill-opacity="0.9" stroke="#272b60" stroke-width="0.36">Übernahme versucht, dann</text>
<text class="b" transform="translate(199.4 380.8) scale(0.5) skewX(0.5)" font-size="12" text-anchor="middle" textLength="48.8" lengthAdjust="spacingAndGlyphs" fill-opacity="0.9" stroke="#272b60" stroke-width="0.36">aber eine</text>
<text class="b" transform="translate(198.05 388.2) scale(0.5) skewX(0.5)" font-size="12" text-anchor="middle" textLength="100.6" lengthAdjust="spacingAndGlyphs" fill-opacity="0.9" stroke="#272b60" stroke-width="0.36">freundliche Fusion</text>
<text class="b" transform="translate(197.55 395.6) scale(0.5) skewX(0.5)" font-size="12" text-anchor="middle" textLength="45.8" lengthAdjust="spacingAndGlyphs" fill-opacity="0.9" stroke="#272b60" stroke-width="0.36">anstrebt.</text>
</g>
<g><circle cx="277.8" cy="357.6" r="37.8" fill="#22539f" filter="url(#sh)"/>
<rect x="271.9" y="315.4" width="11.7" height="8.8" fill="#1d4590" stroke="#e8eef8" stroke-width="0.8"/>
<text class="l" x="277.75" y="322.61" font-size="9.12" text-anchor="middle">W</text>
<text class="t" transform="translate(277.8 334.3) scale(0.5) skewX(0.5)" font-size="12.8" text-anchor="middle" textLength="79.2" lengthAdjust="spacingAndGlyphs">White Knight</text>
<text class="b" transform="translate(277.75 351) scale(0.5) skewX(0.5)" font-size="12.1" text-anchor="middle" textLength="126" lengthAdjust="spacingAndGlyphs" fill-opacity="0.92" stroke="#22539f" stroke-width="0.36">Freundlicher Bieter, der</text>
<text class="b" transform="translate(277.75 358.3) scale(0.5) skewX(0.5)" font-size="12.1" text-anchor="middle" textLength="115" lengthAdjust="spacingAndGlyphs" fill-opacity="0.92" stroke="#22539f" stroke-width="0.36">ein Unternehmen vor</text>
<text class="b" transform="translate(277.75 365.6) scale(0.5) skewX(0.5)" font-size="12.1" text-anchor="middle" textLength="121.4" lengthAdjust="spacingAndGlyphs" fill-opacity="0.92" stroke="#22539f" stroke-width="0.36">einer feindlichen Über-</text>
<text class="b" transform="translate(279.43 372.9) scale(0.5) skewX(0.5)" font-size="12.1" text-anchor="middle" textLength="65.3" lengthAdjust="spacingAndGlyphs" fill-opacity="0.92" stroke="#22539f" stroke-width="0.36">nahme rettet.</text>
</g>
<g><circle cx="367.2" cy="360.95" r="49.7" fill="#75b6e2" filter="url(#sh)"/>
<rect x="359.4" y="305.9" width="15.95" height="11.7" fill="#67a8d9" stroke="#e8eef8" stroke-width="0.8"/>
<text class="l" x="367.38" y="315.47" font-size="11.88" text-anchor="middle">Z</text>
<text class="t" transform="translate(367.25 329.5) scale(0.5) skewX(0.5)" font-size="15.3" text-anchor="middle" textLength="129" lengthAdjust="spacingAndGlyphs">Zombie-Company</text>
<text class="b" transform="translate(367.38 353.3) scale(0.5) skewX(0.5)" font-size="15.8" text-anchor="middle" textLength="133.5" lengthAdjust="spacingAndGlyphs" fill-opacity="1" stroke="#75b6e2" stroke-width="0.32">Unternehmen, das</text>
<text class="b" transform="translate(366.75 362.6) scale(0.5) skewX(0.5)" font-size="15.8" text-anchor="middle" textLength="159" lengthAdjust="spacingAndGlyphs" fill-opacity="1" stroke="#75b6e2" stroke-width="0.32">finanziell überlebt, aber</text>
<text class="b" transform="translate(367.38 371.9) scale(0.5) skewX(0.5)" font-size="15.8" text-anchor="middle" textLength="176.5" lengthAdjust="spacingAndGlyphs" fill-opacity="1" stroke="#75b6e2" stroke-width="0.32">nicht genügend Gewinne</text>
<text class="b" transform="translate(366.75 381.2) scale(0.5) skewX(0.5)" font-size="15.8" text-anchor="middle" textLength="171" lengthAdjust="spacingAndGlyphs" fill-opacity="1" stroke="#75b6e2" stroke-width="0.32">erzielt, um Schulden ab-</text>
<text class="b" transform="translate(365.75 390.5) scale(0.5) skewX(0.5)" font-size="15.8" text-anchor="middle" textLength="57" lengthAdjust="spacingAndGlyphs" fill-opacity="1" stroke="#75b6e2" stroke-width="0.32">zubauen.</text>
</g>
<g><circle cx="453.2" cy="320.7" r="40.2" fill="#22539f" filter="url(#sh)"/>
<rect x="447.1" y="275.8" width="12.7" height="9.3" fill="#1d4590" stroke="#e8eef8" stroke-width="0.8"/>
<text class="l" x="453.45" y="283.42" font-size="9.6" text-anchor="middle">S</text>
<text class="t" transform="translate(453.45 295) scale(0.5) skewX(0.5)" font-size="11.2" text-anchor="middle" textLength="99" lengthAdjust="spacingAndGlyphs">Stalking Horse Bid</text>
<text class="b" transform="translate(453 314.7) scale(0.5) skewX(0.5)" font-size="12.8" text-anchor="middle" textLength="139.6" lengthAdjust="spacingAndGlyphs" fill-opacity="0.92" stroke="#22539f" stroke-width="0.38">Eröffnungsgebot in einer</text>
<text class="b" transform="translate(453.45 322.2) scale(0.5) skewX(0.5)" font-size="12.8" text-anchor="middle" textLength="117" lengthAdjust="spacingAndGlyphs" fill-opacity="0.92" stroke="#22539f" stroke-width="0.38">Insolvenzauktion zur</text>
<text class="b" transform="translate(453 329.7) scale(0.5) skewX(0.5)" font-size="12.8" text-anchor="middle" textLength="97.2" lengthAdjust="spacingAndGlyphs" fill-opacity="0.92" stroke="#22539f" stroke-width="0.38">Festlegung eines</text>
<text class="b" transform="translate(452.5 337.2) scale(0.5) skewX(0.5)" font-size="12.8" text-anchor="middle" textLength="90" lengthAdjust="spacingAndGlyphs" fill-opacity="0.92" stroke="#22539f" stroke-width="0.38">Mindestpreises.</text>
</g>
<g><circle cx="548.7" cy="335.1" r="29.45" fill="#75b6e2" filter="url(#sh)"/>
<rect x="544.5" y="301.9" width="8.5" height="6.55" fill="#67a8d9" stroke="#e8eef8" stroke-width="0.8"/>
<text class="l" x="548.75" y="307.28" font-size="6.98" text-anchor="middle">R</text>
<text class="t" transform="translate(548.65 316.8) scale(0.5) skewX(0.5)" font-size="9.2" text-anchor="middle" textLength="70" lengthAdjust="spacingAndGlyphs">Recapitalization</text>
<text class="b" transform="translate(548.83 330.75) scale(0.5) skewX(0.5)" font-size="9.6" text-anchor="middle" textLength="91.7" lengthAdjust="spacingAndGlyphs" fill-opacity="1" stroke="#75b6e2" stroke-width="0.19">Umstrukturierung der</text>
<text class="b" transform="translate(548.73 336.45) scale(0.5) skewX(0.5)" font-size="9.6" text-anchor="middle" textLength="86.5" lengthAdjust="spacingAndGlyphs" fill-opacity="1" stroke="#75b6e2" stroke-width="0.19">Kapitalstruktur nach</text>
<text class="b" transform="translate(548.3 342.15) scale(0.5) skewX(0.5)" font-size="9.6" text-anchor="middle" textLength="72.8" lengthAdjust="spacingAndGlyphs" fill-opacity="1" stroke="#75b6e2" stroke-width="0.19">einer Übernahme.</text>
</g>
<g><circle cx="501.2" cy="355.4" r="30" fill="#272b60" filter="url(#sh)"/>
<rect x="496.05" y="321.55" width="9.7" height="6.9" fill="#262a5e" stroke="#e8eef8" stroke-width="0.8"/>
<text class="l" x="500.9" y="327.21" font-size="7.32" text-anchor="middle">T</text>
<text class="t" transform="translate(500.98 336.4) scale(0.5) skewX(0.5)" font-size="9" text-anchor="middle" textLength="74.5" lengthAdjust="spacingAndGlyphs">Tag-Along Rights</text>
<text class="b" transform="translate(499.68 349.9) scale(0.5) skewX(0.5)" font-size="9.7" text-anchor="middle" textLength="77.7" lengthAdjust="spacingAndGlyphs" fill-opacity="0.9" stroke="#272b60" stroke-width="0.29">Rechte von Minder-</text>
<text class="b" transform="translate(501.52 355.7) scale(0.5) skewX(0.5)" font-size="9.7" text-anchor="middle" textLength="107.5" lengthAdjust="spacingAndGlyphs" fill-opacity="0.9" stroke="#272b60" stroke-width="0.29">heitsgesellschaftern, ihre</text>
<text class="b" transform="translate(501.43 361.5) scale(0.5) skewX(0.5)" font-size="9.7" text-anchor="middle" textLength="105.7" lengthAdjust="spacingAndGlyphs" fill-opacity="0.9" stroke="#272b60" stroke-width="0.29">Anteile beim Verkauf der</text>
<text class="b" transform="translate(501.6 367.3) scale(0.5) skewX(0.5)" font-size="9.7" text-anchor="middle" textLength="91" lengthAdjust="spacingAndGlyphs" fill-opacity="0.9" stroke="#272b60" stroke-width="0.29">Mehrheitsbeteiligung</text>
<text class="b" transform="translate(501.43 373.1) scale(0.5) skewX(0.5)" font-size="9.7" text-anchor="middle" textLength="70.7" lengthAdjust="spacingAndGlyphs" fill-opacity="0.9" stroke="#272b60" stroke-width="0.29">mitzuverkaufen.</text>
</g>
<rect x="551" y="370.5" width="49" height="29.5" fill="url(#fxg)"/>
<text class="l" x="575.5" y="397.8" font-weight="bold" font-size="22" text-anchor="middle" textLength="41" lengthAdjust="spacingAndGlyphs">FXS</text>
<circle cx="575.5" cy="390.5" r="3" fill="url(#xg)"/>
</svg></body></html>
